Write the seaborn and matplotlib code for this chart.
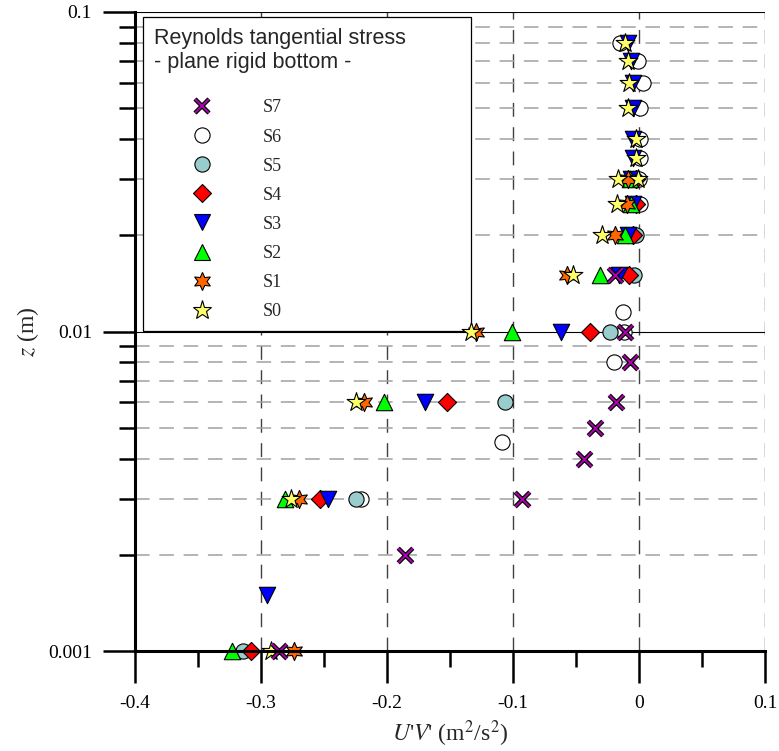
import numpy as np
import pandas as pd
import matplotlib
matplotlib.use("Agg")
import matplotlib.pyplot as plt
import seaborn as sns
from matplotlib.lines import Line2D
from matplotlib.ticker import FixedLocator, FixedFormatter, NullFormatter
from matplotlib.font_manager import FontProperties

# ---------------- data ----------------
series_names = ["S7", "S6", "S5", "S4", "S3", "S2", "S1", "S0"]

s7_z = [0.001, 0.002, 0.003, 0.004, 0.005, 0.006, 0.008, 0.01, 0.015]
s7_uv = [-0.286, -0.186, -0.093, -0.044, -0.035, -0.018, -0.007, -0.011, -0.019]

s6_z = [0.003, 0.0045, 0.008, 0.01, 0.0115, 0.025, 0.03, 0.035, 0.04, 0.05, 0.06, 0.07, 0.08]
s6_uv = [-0.221, -0.109, -0.020, -0.012, -0.013, 0.001, 0.0, 0.001, 0.001, 0.001, 0.003, -0.001, -0.015]

s5_z = [0.001, 0.003, 0.006, 0.01, 0.015, 0.02]
s5_uv = [-0.314, -0.225, -0.106, -0.023, -0.004, -0.002]

s4_z = [0.001, 0.003, 0.006, 0.01, 0.015, 0.02, 0.025, 0.03]
s4_uv = [-0.308, -0.253, -0.152, -0.039, -0.008, -0.005, -0.002, -0.002]

s3_z = [0.0015, 0.003, 0.006, 0.01, 0.015, 0.02, 0.025, 0.03, 0.035, 0.04, 0.05, 0.06, 0.07, 0.08]
s3_uv = [-0.295, -0.247, -0.170, -0.062, -0.016, -0.009, -0.005, -0.006, -0.005, -0.005, -0.005, -0.005, -0.006, -0.009]

s2_z = [0.001, 0.003, 0.006, 0.01, 0.015, 0.02, 0.025, 0.03]
s2_uv = [-0.323, -0.281, -0.202, -0.101, -0.031, -0.011, -0.006, -0.007]

s1_z = [0.001, 0.003, 0.006, 0.01, 0.015, 0.02, 0.025, 0.03]
s1_uv = [-0.274, -0.270, -0.218, -0.129, -0.057, -0.019, -0.0095, -0.009]

s0_z = [0.001, 0.003, 0.006, 0.01, 0.015, 0.02, 0.025, 0.03, 0.03, 0.035, 0.04, 0.05, 0.06, 0.07, 0.08]
s0_uv = [-0.292, -0.276, -0.225, -0.133, -0.052, -0.029, -0.0175, -0.017, -0.001, -0.002, -0.002, -0.009, -0.008, -0.009, -0.011]

x_ticks = [-0.4, -0.3, -0.2, -0.1, 0.0, 0.1]
x_tick_labels = ["-0.4", "-0.3", "-0.2", "-0.1", "0", "0.1"]
y_ticks = [0.001, 0.01, 0.1]
y_tick_labels = ["0.001", "0.01", "0.1"]

legend_title = "Reynolds tangential stress\n- plane rigid bottom -"

# ---------------- style ----------------
sns.set_style("white")
plt.rcParams["font.family"] = ["Liberation Serif", "DejaVu Serif"]
plt.rcParams["mathtext.fontset"] = "stix"
plt.rcParams["lines.scale_dashes"] = False

styles = {
    "S7": dict(marker="x", color="#B000B0", s=110),
    "S6": dict(marker="o", color="white", s=120),
    "S5": dict(marker="o", color="#99CCCC", s=120),
    "S4": dict(marker="D", color="#FF0000", s=85),
    "S3": dict(marker="v", color="#0000FF", s=140),
    "S2": dict(marker="^", color="#00FF00", s=140),
    "S1": dict(marker=(6, 1, 0), color="#FF6600", s=170),
    "S0": dict(marker="*", color="#FFFF66", s=200),
}

data = {
    "S7": (s7_z, s7_uv), "S6": (s6_z, s6_uv), "S5": (s5_z, s5_uv),
    "S4": (s4_z, s4_uv), "S3": (s3_z, s3_uv), "S2": (s2_z, s2_uv),
    "S1": (s1_z, s1_uv), "S0": (s0_z, s0_uv),
}
df = pd.concat(
    [pd.DataFrame({"series": k, "z": v[0], "uv": v[1]}) for k, v in data.items()],
    ignore_index=True,
)

fig = plt.figure(figsize=(7.79, 7.51), dpi=100)
ax = fig.add_axes([135 / 779, 1 - 651 / 751, 630 / 779, 639 / 751])
ax.set_yscale("log")

draw_order = ["S6", "S5", "S4", "S3", "S2", "S1", "S0", "S7"]
for name in draw_order:
    st = styles[name]
    sub = df[df["series"] == name]
    if st["marker"] == "x":
        sns.scatterplot(data=sub, x="uv", y="z", marker="x", color="black",
                        s=st["s"], linewidth=3.2, ax=ax, zorder=5, legend=False,
                        clip_on=False)
        sns.scatterplot(data=sub, x="uv", y="z", marker="x", color=st["color"],
                        s=st["s"], linewidth=1.4, ax=ax, zorder=6, legend=False,
                        clip_on=False)
    else:
        sns.scatterplot(data=sub, x="uv", y="z", marker=st["marker"], color=st["color"],
                        edgecolor="black", linewidth=0.8, s=st["s"], ax=ax,
                        zorder=5, legend=False, clip_on=False)

ax.set_xlim(-0.4, 0.1)
ax.set_ylim(0.001, 0.1)

# ticks
ax.xaxis.set_major_locator(FixedLocator(x_ticks))
ax.xaxis.set_major_formatter(FixedFormatter(x_tick_labels))
ax.xaxis.set_minor_locator(FixedLocator([-0.35, -0.25, -0.15, -0.05, 0.05]))
ax.yaxis.set_major_locator(FixedLocator(y_ticks))
ax.yaxis.set_major_formatter(FixedFormatter(y_tick_labels))
ax.yaxis.set_minor_locator(FixedLocator([m * 1e-3 for m in range(2, 10)] + [m * 1e-2 for m in range(2, 10)]))
ax.yaxis.set_minor_formatter(NullFormatter())

ax.tick_params(axis="both", which="both", bottom=True, left=True, top=False, right=False)
ax.tick_params(axis="both", which="major", direction="out", length=23, width=1.8,
               labelsize=14, colors="black")
ax.tick_params(axis="both", which="minor", direction="out", length=11.5, width=1.8,
               colors="black")
ax.tick_params(axis="x", which="major", pad=9)
ax.tick_params(axis="y", which="major", pad=8)

# spines
for sp in ["top", "right"]:
    ax.spines[sp].set_visible(False)
for sp in ["left", "bottom"]:
    ax.spines[sp].set_linewidth(2.2)
    ax.spines[sp].set_color("black")
    ax.spines[sp].set_zorder(7)

# grid
ax.set_axisbelow(True)
ax.yaxis.grid(True, which="minor", color="#A0A0A0", lw=1.1, ls=(0, (10.5, 7)))
ax.yaxis.grid(True, which="major", color="black", lw=0.8, ls="-")
ax.xaxis.grid(True, which="major", color="#404040", lw=1.0, ls=(0, (10, 7.5)))

# labels
ax.set_xlabel(r"$U$'$V$' (m$^2$/s$^2$)", fontsize=17, labelpad=4)
ax.set_ylabel(r"$z$ (m)", fontsize=17, labelpad=5)

# legend
handles = []
for name in series_names:
    st = styles[name]
    ms = np.sqrt(st["s"])
    if st["marker"] == "x":
        h = (Line2D([], [], ls="none", marker="x", color="black", markersize=ms, mew=3.2),
             Line2D([], [], ls="none", marker="x", color=st["color"], markersize=ms, mew=1.4))
    else:
        h = Line2D([], [], ls="none", marker=st["marker"], markerfacecolor=st["color"],
                   markeredgecolor="black", markeredgewidth=0.8, markersize=ms)
    handles.append(h)

leg = ax.legend(handles, series_names, title=legend_title,
                title_fontproperties=FontProperties(family="Liberation Sans", size=15.5),
                alignment="left", loc="upper left", mode="expand",
                bbox_to_anchor=(8 / 630, 324 / 639, 328 / 630, 310 / 639),
                borderaxespad=0, prop=FontProperties(family="Liberation Serif", size=13),
                handlelength=5.36, handletextpad=0.65, labelspacing=0.67,
                borderpad=0.6, fancybox=False, framealpha=1, edgecolor="black",
                frameon=True)
leg.get_title().set_linespacing(1.2)
leg._legend_box.sep = 19
leg.get_frame().set_linewidth(0.9)
leg.set_zorder(4.5)

fig.savefig("out.png", dpi=100)
